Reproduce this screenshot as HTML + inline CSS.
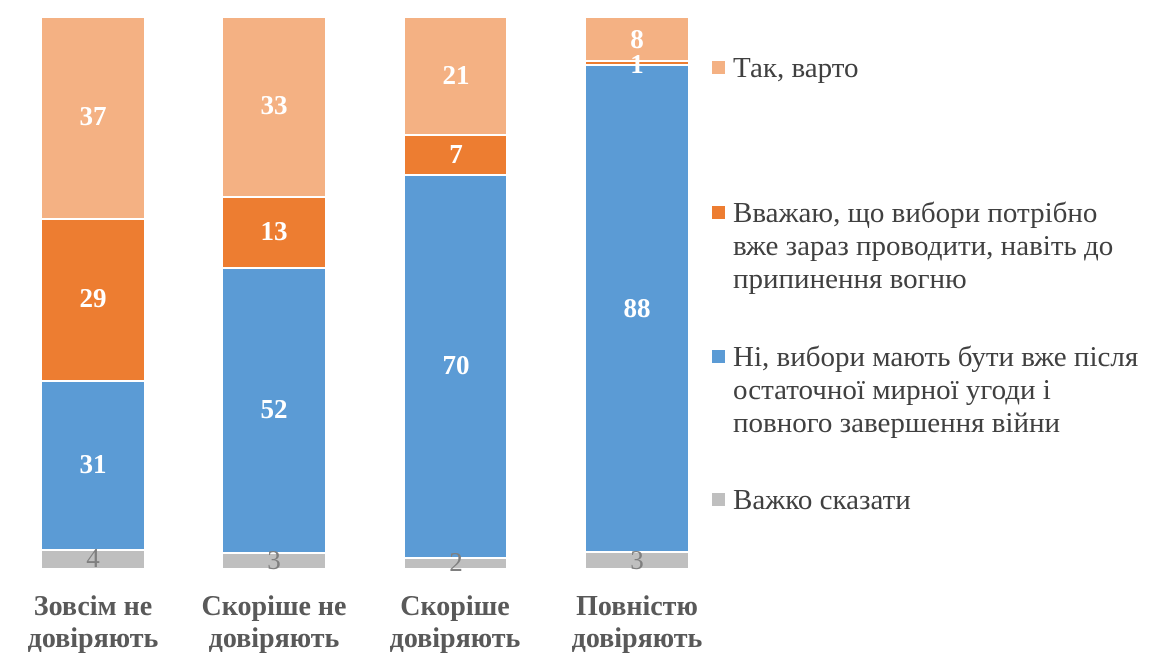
<!DOCTYPE html>
<html><head><meta charset="utf-8"><style>
body{margin:0;background:#fff;width:1172px;height:671px;overflow:hidden;position:relative;font-family:"Liberation Serif","DejaVu Serif",serif}
.s{position:absolute;box-sizing:border-box;border:0.5px solid #fff}
.v{position:absolute;color:#fff;font-weight:bold;font-size:27px;text-align:center;width:104px}
.g{position:absolute;color:#7f7f7f;font-size:27px;text-align:center;width:104px}
.c{position:absolute;font-weight:bold;font-size:28px;text-align:center;width:220px;line-height:32px;color:#595959}
.lk{position:absolute;width:13px;height:13px;left:712px}
.lt{position:absolute;left:733px;font-size:29px;line-height:33px;color:#404040;white-space:nowrap}
</style></head><body>
<div class="s" style="left:41px;width:104px;top:17px;height:202px;background:#F4B183"></div>
<div class="s" style="left:41px;width:104px;top:219px;height:162px;background:#ED7D31"></div>
<div class="s" style="left:41px;width:104px;top:381px;height:169px;background:#5B9BD5"></div>
<div class="s" style="left:41px;width:104px;top:550px;height:19px;background:#BFBFBF"></div>
<div class="v" style="left:41px;top:101px">37</div>
<div class="v" style="left:41px;top:283px">29</div>
<div class="v" style="left:41px;top:449px">31</div>
<div class="g" style="left:41px;top:543px">4</div>
<div class="s" style="left:222px;width:104px;top:17px;height:180px;background:#F4B183"></div>
<div class="s" style="left:222px;width:104px;top:197px;height:71px;background:#ED7D31"></div>
<div class="s" style="left:222px;width:104px;top:268px;height:285px;background:#5B9BD5"></div>
<div class="s" style="left:222px;width:104px;top:553px;height:16px;background:#BFBFBF"></div>
<div class="v" style="left:222px;top:90px">33</div>
<div class="v" style="left:222px;top:216px">13</div>
<div class="v" style="left:222px;top:394px">52</div>
<div class="g" style="left:222px;top:545px">3</div>
<div class="s" style="left:404px;width:103px;top:17px;height:118px;background:#F4B183"></div>
<div class="s" style="left:404px;width:103px;top:135px;height:40px;background:#ED7D31"></div>
<div class="s" style="left:404px;width:103px;top:175px;height:383px;background:#5B9BD5"></div>
<div class="s" style="left:404px;width:103px;top:558px;height:11px;background:#BFBFBF"></div>
<div class="v" style="left:404px;top:60px">21</div>
<div class="v" style="left:404px;top:139px">7</div>
<div class="v" style="left:404px;top:350px">70</div>
<div class="g" style="left:404px;top:547px">2</div>
<div class="s" style="left:585px;width:104px;top:17px;height:44px;background:#F4B183"></div>
<div class="s" style="left:585px;width:104px;top:61px;height:4px;background:#ED7D31"></div>
<div class="s" style="left:585px;width:104px;top:65px;height:487px;background:#5B9BD5"></div>
<div class="s" style="left:585px;width:104px;top:552px;height:17px;background:#BFBFBF"></div>
<div class="v" style="left:585px;top:24px">8</div>
<div class="v" style="left:585px;top:49px">1</div>
<div class="v" style="left:585px;top:293px">88</div>
<div class="g" style="left:585px;top:545px">3</div>
<div class="c" style="left:-17px;top:591px">Зовсім не<br>довіряють</div>
<div class="c" style="left:164px;top:591px">Скоріше не<br>довіряють</div>
<div class="c" style="left:345px;top:591px">Скоріше<br>довіряють</div>
<div class="c" style="left:527px;top:591px">Повністю<br>довіряють</div>
<div class="lk" style="top:61px;background:#F4B183"></div>
<div class="lt" style="top:52px">Так, варто</div>
<div class="lk" style="top:206px;background:#ED7D31"></div>
<div class="lt" style="top:197px">Вважаю, що вибори потрібно<br>вже зараз проводити, навіть до<br>припинення вогню</div>
<div class="lk" style="top:350px;background:#5B9BD5"></div>
<div class="lt" style="top:341px">Ні, вибори мають бути вже після<br>остаточної мирної угоди і<br>повного завершення війни</div>
<div class="lk" style="top:493px;background:#BFBFBF"></div>
<div class="lt" style="top:484px">Важко сказати</div>
</body></html>
